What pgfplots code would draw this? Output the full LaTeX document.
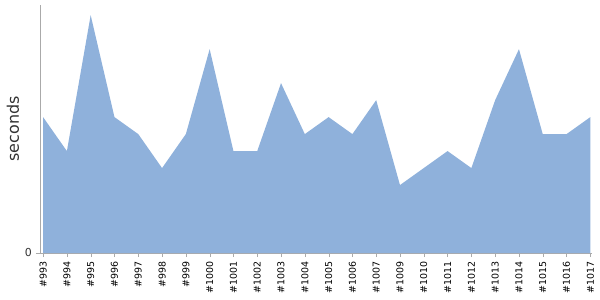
\documentclass[border=0pt]{standalone}
\usepackage{pgfplots}
\pgfplotsset{compat=1.18}
\usepackage{fontspec}
\setmainfont{DejaVu Sans}
\definecolor{areafill}{RGB}{143,177,219}
\definecolor{axgray}{RGB}{170,170,170}
\begin{document}
\begin{tikzpicture}
\begin{axis}[
  scale only axis,
  width=552bp, height=248bp,
  xmin=-0.13, xmax=23.07,
  ymin=0, ymax=14.6,
  axis x line=bottom, axis y line=left,
  axis line style={draw=axgray, -},
  xtick={0,...,23},
  xticklabels={\#993,\#994,\#995,\#996,\#997,\#998,\#999,\#1000,\#1001,\#1002,\#1003,\#1004,\#1005,\#1006,\#1007,\#1009,\#1010,\#1011,\#1012,\#1013,\#1014,\#1015,\#1016,\#1017},
  x tick label style={yshift=-4bp, rotate=90, anchor=east, font=\fontsize{9.5}{10}\selectfont, inner sep=0pt},
  xtick style={draw=axgray},
  ytick={0},
  yticklabels={0},
  y tick label style={font=\fontsize{11}{12}\selectfont, text=black!80, inner sep=0pt, xshift=-4bp},
  ytick style={draw=axgray},
  major tick length=4bp,
  tick align=outside,
  xtick pos=bottom, ytick pos=left,
  ylabel={seconds},
  every axis y label/.style={at={(axis description cs:0,0.5)}, xshift=-27bp, rotate=90, anchor=center, font=\fontsize{16}{17}\selectfont, text=black!80},
  clip=false,
]
\addplot[draw=none, fill=areafill] coordinates {
(0,8) (1,6) (2,14) (3,8) (4,7) (5,5) (6,7) (7,12) (8,6) (9,6) (10,10) (11,7) (12,8) (13,7) (14,9) (15,4) (16,5) (17,6) (18,5) (19,9) (20,12) (21,7) (22,7) (23,8)
} \closedcycle;
\coordinate (bl) at (rel axis cs:0,0);
\coordinate (tr) at (rel axis cs:1,1);
\end{axis}
\pgfresetboundingbox
\path ([shift={(-40bp,-47bp)}]bl) rectangle ([shift={(8bp,5bp)}]tr);
\end{tikzpicture}
\end{document}
